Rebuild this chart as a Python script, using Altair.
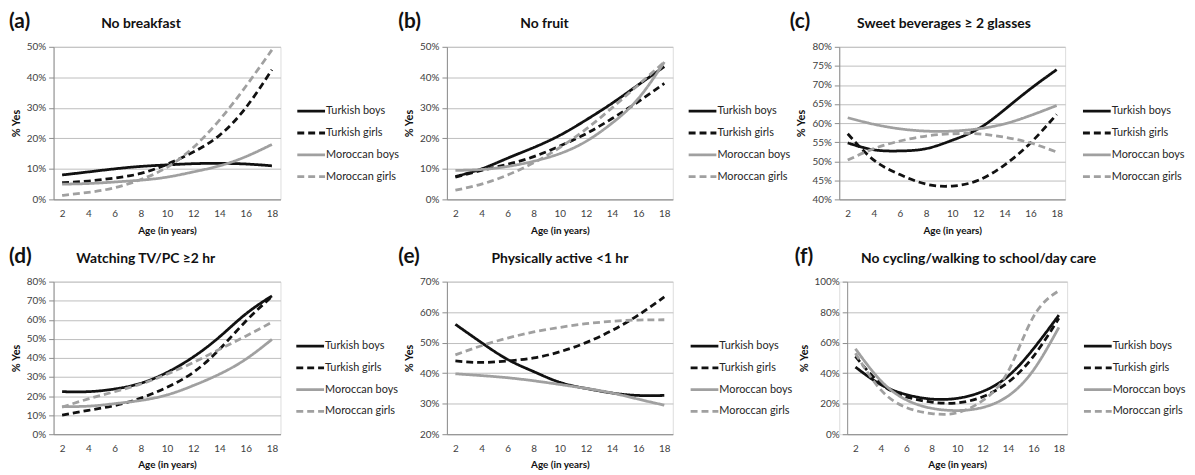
import altair as alt
import pandas as pd

ages = [2, 4, 6, 8, 10, 12, 14, 16, 18]
series = ["Turkish boys", "Turkish girls", "Moroccan boys", "Moroccan girls"]

# (a) No breakfast
a_tb = [8.0, 9.0, 10.0, 10.8, 11.3, 11.7, 11.8, 11.6, 11.0]
a_tg = [5.5, 6.0, 7.0, 8.5, 11.5, 15.5, 21.0, 30.0, 42.5]
a_mb = [5.0, 5.2, 5.7, 6.3, 7.3, 9.0, 11.0, 14.0, 18.0]
a_mg = [1.3, 2.3, 3.8, 6.5, 10.5, 17.0, 26.0, 37.0, 49.0]
# (b) No fruit
b_tb = [7.5, 10.0, 13.5, 17.0, 21.0, 26.0, 31.5, 37.5, 43.5]
b_tg = [7.3, 9.5, 11.5, 14.0, 17.5, 21.5, 26.5, 32.0, 38.0]
b_mb = [9.5, 9.8, 10.8, 12.5, 15.0, 19.0, 25.0, 33.0, 45.0]
b_mg = [3.0, 5.0, 8.0, 12.0, 17.0, 23.0, 30.0, 37.5, 45.0]
# (c) Sweet beverages >= 2 glasses
c_tb = [54.8, 53.0, 52.7, 53.3, 55.5, 58.5, 63.5, 69.0, 74.0]
c_tg = [57.2, 50.3, 46.5, 44.0, 43.5, 45.0, 49.0, 54.8, 62.3]
c_mb = [61.4, 59.7, 58.5, 57.9, 57.9, 58.5, 59.8, 62.0, 64.6]
c_mg = [50.3, 53.3, 55.3, 56.6, 57.2, 57.2, 56.3, 54.8, 52.4]
# (d) Watching TV/PC >= 2 hr
d_tb = [22.3, 22.3, 23.7, 26.7, 32.4, 40.5, 51.0, 63.0, 72.5]
d_tg = [10.0, 12.5, 15.0, 18.9, 24.6, 32.4, 44.5, 59.2, 72.2]
d_mb = [14.5, 14.7, 16.0, 17.7, 20.6, 25.5, 31.5, 39.3, 49.7]
d_mg = [14.2, 18.5, 22.3, 26.3, 31.5, 37.6, 44.5, 51.4, 58.7]
# (e) Physically active < 1 hr
e_tb = [56.0, 50.0, 44.5, 40.5, 37.0, 35.0, 33.5, 32.7, 32.7]
e_tg = [44.0, 43.5, 44.0, 45.0, 47.0, 50.0, 54.0, 59.0, 65.0]
e_mb = [39.8, 39.2, 38.5, 37.5, 36.3, 35.0, 33.5, 31.5, 29.5]
e_mg = [46.0, 49.0, 51.5, 53.5, 55.0, 56.2, 57.0, 57.4, 57.5]
# (f) No cycling/walking to school/day care
f_tb = [44.0, 32.5, 26.0, 23.0, 23.5, 28.0, 38.0, 56.0, 78.0]
f_tg = [51.0, 33.0, 24.5, 21.0, 20.5, 24.5, 34.0, 51.0, 76.0]
f_mb = [56.0, 35.0, 22.5, 17.0, 15.5, 17.5, 25.0, 42.0, 70.0]
f_mg = [53.0, 29.0, 17.5, 13.5, 14.0, 22.0, 41.0, 77.0, 94.0]

panel_labels = ["(a)", "(b)", "(c)", "(d)", "(e)", "(f)"]
panel_titles = ["No breakfast", "No fruit", "Sweet beverages \u2265 2 glasses",
                "Watching TV/PC \u22652 hr", "Physically active <1 hr",
                "No cycling/walking to school/day care"]
y_ticks = [
    [0, 10, 20, 30, 40, 50],
    [0, 10, 20, 30, 40, 50],
    [40, 45, 50, 55, 60, 65, 70, 75, 80],
    [0, 10, 20, 30, 40, 50, 60, 70, 80],
    [20, 30, 40, 50, 60, 70],
    [0, 20, 40, 60, 80, 100],
]
panel_data = [
    [a_tb, a_tg, a_mb, a_mg],
    [b_tb, b_tg, b_mb, b_mg],
    [c_tb, c_tg, c_mb, c_mg],
    [d_tb, d_tg, d_mb, d_mg],
    [e_tb, e_tg, e_mb, e_mg],
    [f_tb, f_tg, f_mb, f_mg],
]

# layout (pixels, relative to each view)
widths = [229, 228, 228, 229, 228, 230]
x_left = [0, 0, 0, 0, 0, 8]          # where the plot area starts inside the view
label_dx = [-45, -49, -50, -45, -49, -45]
title_dx = [48, 74, 18, 23, 45, 22]
legend_dx = [246, 244, 246, 245, 246, 247]

FONT = "Lato"
colors = ["#111111", "#111111", "#a0a0a0", "#a0a0a0"]
dashes = [[1, 0], [7, 4], [1, 0], [7, 4]]
color_scale = alt.Scale(domain=series, range=colors)
dash_scale = alt.Scale(domain=series, range=dashes)


def make_panel(i):
    rows = []
    for s, vals in zip(series, panel_data[i]):
        for a, v in zip(ages, vals):
            rows.append({"age": a, "value": v, "series": s})
    df = pd.DataFrame(rows)
    ticks = y_ticks[i]
    xscale = alt.Scale(domain=[1.35, 18.65], nice=False, zero=False)
    if x_left[i]:
        xscale = alt.Scale(domain=[1.35, 18.65], nice=False, zero=False,
                           range=[x_left[i], widths[i]])
    lines = alt.Chart(df).mark_line(strokeWidth=2.8, interpolate="natural").encode(
        x=alt.X("age:Q", scale=xscale,
                axis=alt.Axis(values=ages, title="Age (in years)", grid=False,
                              ticks=False, labelPadding=9, titlePadding=7,
                              domainColor="#8c8c8c", labelColor="#404040",
                              labelFont=FONT, labelFontSize=10,
                              titleFont=FONT, titleFontSize=10,
                              titleFontWeight="bold", titleColor="#111111")),
        y=alt.Y("value:Q",
                scale=alt.Scale(domain=[ticks[0], ticks[-1]], nice=False, zero=False),
                axis=alt.Axis(values=ticks, labelExpr="datum.value + '%'",
                              title="% Yes", grid=True, gridColor="#bdbdbd",
                              offset=-x_left[i],
                              domainColor="#8c8c8c", tickColor="#8c8c8c",
                              tickSize=5, labelPadding=3, titlePadding=5,
                              labelColor="#404040", labelFont=FONT,
                              labelFontSize=10, titleFont=FONT,
                              titleFontSize=11, titleFontWeight="bold",
                              titleColor="#111111")),
        color=alt.Color("series:N", scale=color_scale, legend=None),
        strokeDash=alt.StrokeDash("series:N", scale=dash_scale, legend=None),
    )
    leg_df = pd.DataFrame({"series": series})
    yleg = alt.Y("series:N",
                 scale=alt.Scale(type="point", domain=series, range=[65, 131], padding=0),
                 axis=None)
    lx = legend_dx[i]
    leg_rules = alt.Chart(leg_df).mark_rule(strokeWidth=2.8).encode(
        x=alt.value(lx), x2=alt.value(lx + 28), y=yleg,
        color=alt.Color("series:N", scale=color_scale, legend=None),
        strokeDash=alt.StrokeDash("series:N", scale=dash_scale, legend=None),
    )
    leg_text = alt.Chart(leg_df).mark_text(
        align="left", baseline="middle", font=FONT, fontSize=11, color="#262626"
    ).encode(x=alt.value(lx + 29), y=yleg, text="series:N")
    lab = alt.Chart(pd.DataFrame({"t": [panel_labels[i]]})).mark_text(
        align="left", baseline="middle", font=FONT, fontSize=21,
        fontWeight="bold", color="#111111"
    ).encode(x=alt.value(label_dx[i]), y=alt.value(-25), text="t:N")
    ttl = alt.Chart(pd.DataFrame({"t": [panel_titles[i]]})).mark_text(
        align="left", baseline="middle", font=FONT, fontSize=14,
        fontWeight="bold", color="#111111"
    ).encode(x=alt.value(title_dx[i]), y=alt.value(-23), text="t:N")
    return alt.layer(lines, leg_rules, leg_text, lab, ttl).resolve_scale(
        y="independent"
    ).properties(width=widths[i], height=154)


p = [make_panel(i) for i in range(6)]
chart = alt.concat(
    *p, columns=3, spacing={"row": 83, "column": 168}, bounds="flush", align="each"
).properties(
    padding={"left": 0, "top": 0, "right": 0, "bottom": 0}
).configure_view(stroke=None).configure(background="white")

chart.save("out.html", embed_options={"renderer": "svg", "actions": False})
